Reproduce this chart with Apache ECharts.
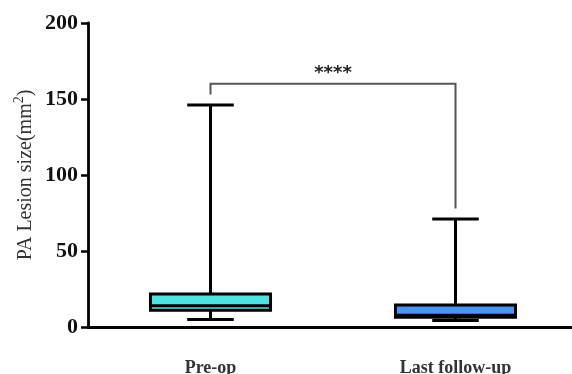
<!DOCTYPE html>
<html>
<head>
<meta charset="utf-8">
<script src="https://cdn.jsdelivr.net/npm/echarts@6/dist/echarts.min.js"></script>
<style>html,body{margin:0;padding:0;background:#fff;}#c{width:572px;height:374px;}</style>
</head>
<body>
<div id="c"></div>
<script>
const categories = ['Pre-op', 'Last follow-up'];
const boxMin = [5, 4.2];
const boxQ1 = [11, 6.4];
const boxMedian = [14, 7.8];
const boxQ3 = [21.7, 14.5];
const boxMax = [146, 71];
const boxColors = ['#4FE2E0', '#4B93F7'];
const yTickValues = [0, 50, 100, 150, 200];
const bracketTop = 160;
const bracketLeftEnd = 153;
const bracketRightEnd = 78;
const starsValue = 167;
const significance = '****';

const FONT = 'Liberation Serif';
const boxData = categories.map((c, i) => [i, boxMin[i], boxQ1[i], boxMedian[i], boxQ3[i], boxMax[i]]);

function renderBox(params, api) {
  const i = api.value(0);
  const pMin = api.coord([i, api.value(1)]);
  const pQ1 = api.coord([i, api.value(2)]);
  const pMed = api.coord([i, api.value(3)]);
  const pQ3 = api.coord([i, api.value(4)]);
  const pMax = api.coord([i, api.value(5)]);
  const band = api.size([1, 0])[0];
  const x = pMin[0];
  const bw = band * 0.49;
  const cw = band * 0.19;
  const lineStyle = { stroke: '#000', lineWidth: 3 };
  return {
    type: 'group',
    children: [
      { type: 'line', shape: { x1: x, y1: pMax[1], x2: x, y2: pQ3[1] }, style: lineStyle },
      { type: 'line', shape: { x1: x, y1: pQ1[1], x2: x, y2: pMin[1] }, style: lineStyle },
      { type: 'line', shape: { x1: x - cw / 2, y1: pMax[1], x2: x + cw / 2, y2: pMax[1] }, style: lineStyle },
      { type: 'line', shape: { x1: x - cw / 2, y1: pMin[1], x2: x + cw / 2, y2: pMin[1] }, style: lineStyle },
      { type: 'rect', shape: { x: x - bw / 2, y: pQ3[1], width: bw, height: pQ1[1] - pQ3[1] },
        style: { fill: boxColors[params.dataIndex], stroke: '#000', lineWidth: 3 } },
      { type: 'line', shape: { x1: x - bw / 2, y1: pMed[1], x2: x + bw / 2, y2: pMed[1] }, style: lineStyle }
    ]
  };
}

function renderBracket(params, api) {
  const a = api.coord([api.value(0), api.value(2)]);
  const b = api.coord([api.value(1), api.value(2)]);
  const aEnd = api.coord([api.value(0), api.value(3)]);
  const bEnd = api.coord([api.value(1), api.value(4)]);
  const sy = api.coord([api.value(0), api.value(5)])[1];
  const sx = (a[0] + b[0]) / 2;
  return {
    type: 'group',
    children: [
      { type: 'polyline', shape: { points: [[aEnd[0], aEnd[1]], [a[0], a[1]], [b[0], b[1]], [bEnd[0], bEnd[1]]] },
        style: { stroke: '#555', lineWidth: 2, fill: null } },
      { type: 'text', x: sx, y: sy,
        style: { text: significance, fontFamily: 'DejaVu Sans', fontSize: 18, fontWeight: 'bold', fill: '#222',
                 align: 'center', verticalAlign: 'middle' } }
    ]
  };
}

const chart = echarts.init(document.getElementById('c'), null, { renderer: 'canvas' });
chart.setOption({
  animation: false,
  backgroundColor: '#fff',
  grid: { left: 88, width: 490, top: 23, bottom: 47, containLabel: false, outerBoundsMode: 'none' },
  xAxis: {
    type: 'category',
    data: categories,
    axisLine: { lineStyle: { color: '#000', width: 2.8 } },
    axisTick: { alignWithLabel: true, length: 5, lineStyle: { color: '#000', width: 2.5 } },
    axisLabel: { margin: 32, fontFamily: FONT, fontWeight: 'bold', fontSize: 18, color: '#333' },
    splitLine: { show: false }
  },
  yAxis: {
    type: 'value',
    min: 0, max: 200, interval: 50,
    name: '{a|PA Lesion size(mm}{s|2}{a|)}',
    nameLocation: 'middle',
    nameRotate: 90,
    nameGap: 52,
    nameMoveOverlap: false,
    nameTextStyle: {
      rich: {
        a: { fontFamily: FONT, fontSize: 20, color: '#333', verticalAlign: 'bottom', lineHeight: 24 },
        s: { fontFamily: FONT, fontSize: 14, color: '#333', verticalAlign: 'top', lineHeight: 24 }
      }
    },
    axisLine: { show: true, lineStyle: { color: '#000', width: 2.8 } },
    axisTick: { show: true, length: 7, lineStyle: { color: '#000', width: 2.5 } },
    axisLabel: { margin: 10, fontFamily: FONT, fontWeight: 'bold', fontSize: 22, color: '#111',
      customValues: yTickValues },
    splitLine: { show: false }
  },
  series: [
    { type: 'custom', renderItem: renderBox, data: boxData, encode: { x: 0, y: [1, 2, 3, 4, 5] }, clip: false },
    { type: 'custom', renderItem: renderBracket,
      data: [[0, 1, bracketTop, bracketLeftEnd, bracketRightEnd, starsValue]],
      encode: { x: [0, 1], y: [2, 3, 4, 5] }, clip: false }
  ]
});
</script>
</body>
</html>
